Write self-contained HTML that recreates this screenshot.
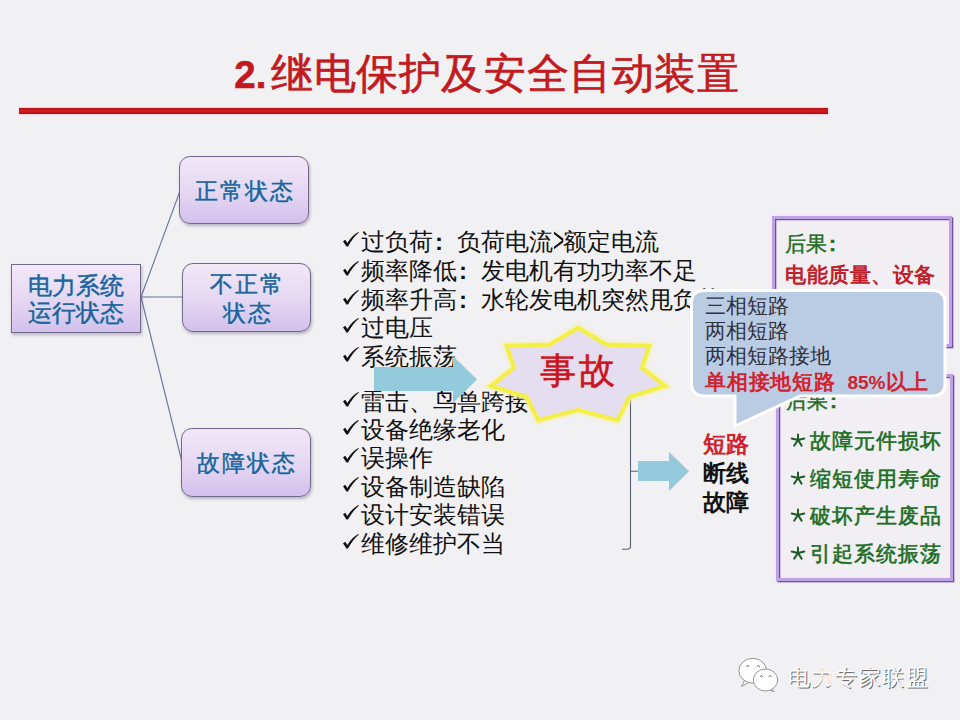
<!DOCTYPE html>
<html><head><meta charset="utf-8">
<style>
*{margin:0;padding:0;box-sizing:border-box}
html,body{width:960px;height:720px;overflow:hidden}
body{background:#F1F0F2;font-family:"Liberation Sans",sans-serif;position:relative}
.abs{position:absolute}
.title{left:7px;width:960px;top:46px;letter-spacing:0.6px;-webkit-text-stroke:0.6px #C21A20;text-align:center;font-size:42px;line-height:56px;color:#C21A20;white-space:nowrap}
.title b{font-weight:bold;font-size:38.5px;letter-spacing:0;margin-right:4.6px}
.redline{left:19px;top:108px;width:809px;height:6px;background:linear-gradient(#A81216,#D4181C 35%,#D2171B 65%,#A01014);box-shadow:0 -1px 1px #F8D0D0,0 1px 1px #F8D8E0}
.node{position:absolute;border:1px solid #6E6A8C;background:linear-gradient(#F2E8F8,#E4D6F2 55%,#D2C0EC);box-shadow:1px 2px 3px rgba(80,70,110,.35);color:#22629A;font-size:24px;line-height:27px;-webkit-text-stroke:0.45px #22629A;text-align:center;display:flex;align-items:center;justify-content:center;text-shadow:0 0 2px #D2E8FA,0 0 1px #D2E8FA}
.rn{font-size:22.5px;letter-spacing:2px;padding-left:2px;padding-top:2px;line-height:29px}
.list{left:343px;font-size:24px;line-height:28.8px;color:#111;white-space:nowrap}
.list div{position:relative;padding-left:18px}
.chk{position:absolute;left:0;top:4px;width:17px;height:15px;overflow:visible}
.callout-t{font-size:21px;line-height:25px;color:#2E3040;white-space:nowrap}
.ast{position:absolute;left:-20px;top:10px}
.rl{position:relative}
.cl{display:inline-block;width:1em;padding-left:2px;font-weight:bold;font-family:"Liberation Sans",sans-serif}
.cl2{font-family:"Liberation Sans",sans-serif;font-weight:bold;padding-left:2px}
.rbox{position:absolute;border:3.6px solid #BCA4E4;background:#F1EFF3;box-shadow:inset 1.3px 1.3px 0 #6E509C,inset 0 0 0 2.6px #F7E9F8,1.3px 1.3px 0 #6E509C,0 0 0 2.8px #F6E9FA}
</style></head><body>

<div class="abs title"><b>2.</b>继电保护及安全自动装置</div>
<div class="abs redline"></div>

<!-- tree lines -->
<svg class="abs" style="left:0;top:0" width="960" height="720">
<g stroke="#66759A" stroke-width="1.1" fill="none">
<line x1="141" y1="297" x2="180" y2="191"/>
<line x1="141" y1="297" x2="182" y2="297"/>
<line x1="141" y1="297" x2="182" y2="462"/>
</g>
</svg>

<div class="node" style="left:11px;top:264px;width:130px;height:69px;">电力系统<br>运行状态</div>
<div class="node rn" style="left:179px;top:156px;width:130px;height:68px;border-radius:11px">正常状态</div>
<div class="node rn" style="left:182px;top:263px;width:129px;height:69px;border-radius:11px">不正常<br>状态</div>
<div class="node rn" style="left:181px;top:428px;width:130px;height:69px;border-radius:11px">故障状态</div>

<!-- list group 1 -->
<div class="abs list" style="top:228px">
<div><svg class="chk" viewBox="0 0 17 15"><path d="M0 9.2 L2.3 7.8 L4.3 11 C7.5 6 11 2.5 15.3 0.1 L15.8 0.7 C11.8 3.8 8.3 8.5 5 14.6 L3.4 14.6 Z" fill="#111"/></svg>过负荷<span class="cl">:</span>负荷电流<span style="display:inline-block;width:10px;transform:scale(0.8,1.45);transform-origin:0 58%;font-family:'Liberation Sans',sans-serif">&gt;</span>额定电流</div>
<div><svg class="chk" viewBox="0 0 17 15"><path d="M0 9.2 L2.3 7.8 L4.3 11 C7.5 6 11 2.5 15.3 0.1 L15.8 0.7 C11.8 3.8 8.3 8.5 5 14.6 L3.4 14.6 Z" fill="#111"/></svg>频率降低<span class="cl">:</span>发电机有功功率不足</div>
<div><svg class="chk" viewBox="0 0 17 15"><path d="M0 9.2 L2.3 7.8 L4.3 11 C7.5 6 11 2.5 15.3 0.1 L15.8 0.7 C11.8 3.8 8.3 8.5 5 14.6 L3.4 14.6 Z" fill="#111"/></svg>频率升高<span class="cl">:</span>水轮发电机突然甩负荷</div>
<div><svg class="chk" viewBox="0 0 17 15"><path d="M0 9.2 L2.3 7.8 L4.3 11 C7.5 6 11 2.5 15.3 0.1 L15.8 0.7 C11.8 3.8 8.3 8.5 5 14.6 L3.4 14.6 Z" fill="#111"/></svg>过电压</div>
<div><svg class="chk" viewBox="0 0 17 15"><path d="M0 9.2 L2.3 7.8 L4.3 11 C7.5 6 11 2.5 15.3 0.1 L15.8 0.7 C11.8 3.8 8.3 8.5 5 14.6 L3.4 14.6 Z" fill="#111"/></svg>系统振荡</div>
</div>
<!-- list group 2 -->
<div class="abs list" style="top:387.5px;line-height:28.4px">
<div><svg class="chk" viewBox="0 0 17 15"><path d="M0 9.2 L2.3 7.8 L4.3 11 C7.5 6 11 2.5 15.3 0.1 L15.8 0.7 C11.8 3.8 8.3 8.5 5 14.6 L3.4 14.6 Z" fill="#111"/></svg>雷击、鸟兽跨接</div>
<div><svg class="chk" viewBox="0 0 17 15"><path d="M0 9.2 L2.3 7.8 L4.3 11 C7.5 6 11 2.5 15.3 0.1 L15.8 0.7 C11.8 3.8 8.3 8.5 5 14.6 L3.4 14.6 Z" fill="#111"/></svg>设备绝缘老化</div>
<div><svg class="chk" viewBox="0 0 17 15"><path d="M0 9.2 L2.3 7.8 L4.3 11 C7.5 6 11 2.5 15.3 0.1 L15.8 0.7 C11.8 3.8 8.3 8.5 5 14.6 L3.4 14.6 Z" fill="#111"/></svg>误操作</div>
<div><svg class="chk" viewBox="0 0 17 15"><path d="M0 9.2 L2.3 7.8 L4.3 11 C7.5 6 11 2.5 15.3 0.1 L15.8 0.7 C11.8 3.8 8.3 8.5 5 14.6 L3.4 14.6 Z" fill="#111"/></svg>设备制造缺陷</div>
<div><svg class="chk" viewBox="0 0 17 15"><path d="M0 9.2 L2.3 7.8 L4.3 11 C7.5 6 11 2.5 15.3 0.1 L15.8 0.7 C11.8 3.8 8.3 8.5 5 14.6 L3.4 14.6 Z" fill="#111"/></svg>设计安装错误</div>
<div><svg class="chk" viewBox="0 0 17 15"><path d="M0 9.2 L2.3 7.8 L4.3 11 C7.5 6 11 2.5 15.3 0.1 L15.8 0.7 C11.8 3.8 8.3 8.5 5 14.6 L3.4 14.6 Z" fill="#111"/></svg>维修维护不当</div>
</div>

<!-- shapes: arrows, star, brace -->
<svg class="abs" style="left:0;top:0" width="960" height="720">
<path d="M374 367 H453 V356 L477 379.5 L453 403 V391 H374 Z" fill="#93CBDC"/>
<path d="M630.5 398 V546 Q630.5 549.3 627 549.3 H622 M630.5 471.3 H638" stroke="#5A6272" stroke-width="1.1" fill="none"/>
<path d="M638 461 H669 V452 L689 471.3 L669 491 V481 H638 Z" fill="#92CADC"/>
<g transform="translate(578 375.5)">
<filter id="bl" x="-10%" y="-10%" width="120%" height="120%"><feGaussianBlur stdDeviation="0.8"/></filter>
<polygon fill="none" filter="url(#bl)" stroke="#F5F3A0" stroke-width="7" stroke-linejoin="miter" points="0.0,-47.5 28.4,-30.8 71.1,-29.6 63.9,-7.6 86.8,10.4 51.2,21.3 39.5,44.6 0.0,34.2 -39.5,44.6 -51.2,21.3 -86.8,10.4 -63.9,-7.6 -71.1,-29.6 -28.4,-30.8"/>
<polygon fill="#E5DEF0" stroke="#F3EF48" stroke-width="4" stroke-linejoin="miter" points="0.0,-47.5 28.4,-30.8 71.1,-29.6 63.9,-7.6 86.8,10.4 51.2,21.3 39.5,44.6 0.0,34.2 -39.5,44.6 -51.2,21.3 -86.8,10.4 -63.9,-7.6 -71.1,-29.6 -28.4,-30.8"/>
</g>
</svg>
<div class="abs" style="left:540px;top:351px;font-size:36px;line-height:40px;color:#C8141E;letter-spacing:2.5px;-webkit-text-stroke:0.5px #C8141E;white-space:nowrap;text-shadow:0 0 3px #F6C8D0">事故</div>

<!-- result boxes -->
<div class="rbox" style="left:772.3px;top:215.5px;width:179.5px;height:131px"></div>
<div class="abs" style="left:785px;top:231px;font-size:21px;line-height:25px;color:#1E6B1E;-webkit-text-stroke:0.4px #1E6B1E;white-space:nowrap">后果<b class="cl2">:</b></div>
<div class="abs" style="left:785px;top:262px;font-size:21px;line-height:25px;letter-spacing:0.5px;color:#C0202A;font-weight:bold;white-space:nowrap">电能质量、设备</div>

<div class="rbox" style="left:775.5px;top:374px;width:177.5px;height:206.8px"></div>
<div class="abs" style="left:786px;top:388px;font-size:21px;line-height:25px;color:#1E6B1E;-webkit-text-stroke:0.4px #1E6B1E;white-space:nowrap">后果<b class="cl2">:</b></div>
<div class="abs" style="left:809.5px;top:422px;font-size:20.5px;letter-spacing:1px;line-height:37.6px;color:#236A28;-webkit-text-stroke:0.55px #236A28;text-shadow:0 0 2px #D0F2D0;white-space:nowrap">
<div class="rl"><svg class="ast" width="16" height="16" viewBox="-8 -8 16 16"><path d="M0 0V-5.6M0 0L-6.3 -1.5M0 0L6.3 -1.5M0 0L-3.8 5.6M0 0L3.6 5.6" stroke="#1E5A28" stroke-width="2" stroke-linecap="round"/></svg>故障元件损坏</div><div class="rl"><svg class="ast" width="16" height="16" viewBox="-8 -8 16 16"><path d="M0 0V-5.6M0 0L-6.3 -1.5M0 0L6.3 -1.5M0 0L-3.8 5.6M0 0L3.6 5.6" stroke="#1E5A28" stroke-width="2" stroke-linecap="round"/></svg>缩短使用寿命</div><div class="rl"><svg class="ast" width="16" height="16" viewBox="-8 -8 16 16"><path d="M0 0V-5.6M0 0L-6.3 -1.5M0 0L6.3 -1.5M0 0L-3.8 5.6M0 0L3.6 5.6" stroke="#1E5A28" stroke-width="2" stroke-linecap="round"/></svg>破坏产生废品</div><div class="rl"><svg class="ast" width="16" height="16" viewBox="-8 -8 16 16"><path d="M0 0V-5.6M0 0L-6.3 -1.5M0 0L6.3 -1.5M0 0L-3.8 5.6M0 0L3.6 5.6" stroke="#1E5A28" stroke-width="2" stroke-linecap="round"/></svg>引起系统振荡</div></div>

<!-- callout -->
<svg class="abs" style="left:0;top:0" width="960" height="720">
<path d="M704.5 290.5 H932 Q945 290.5 945 303.5 V383 Q945 396 932 396 H800 L735 426 V396 H704.5 Q691.5 396 691.5 383 V303.5 Q691.5 290.5 704.5 290.5 Z" fill="#B9CCE3" stroke="#fff" stroke-width="3"/>
</svg>
<div class="abs callout-t" style="left:705px;top:293px">三相短路<br>两相短路<br>两相短路接地<br><span style="color:#D3222F;font-weight:bold;font-size:21px;position:relative;top:1px"><span style="letter-spacing:0.8px">单相接地短路</span>&nbsp;&nbsp;<span style="font-size:19px">85%</span>以上</span></div>

<!-- fault text -->
<div class="abs" style="left:703px;top:430px;font-size:23px;line-height:29px;font-weight:bold;color:#111;white-space:nowrap"><span style="color:#D0202E">短路</span><br>断线<br>故障</div>

<!-- watermark -->
<div class="abs" style="left:788px;top:662.5px;font-size:22px;letter-spacing:1.6px;line-height:30px;color:#fff;text-shadow:0.8px 0.8px 0 #6a6a6a;white-space:nowrap">电力专家联盟</div>
<svg class="abs" style="left:732px;top:652px" width="60" height="48" viewBox="0 0 60 48">
<g fill="#fff" stroke="#8a8a8a" stroke-width="0.9">
<path d="M12.5 28.5 L9.5 34.5 L16.5 30.5 Z" stroke-linejoin="round"/>
<ellipse cx="20.7" cy="18.7" rx="13.8" ry="12.4"/>
<path d="M39 36 L42 39.6 L36.5 38 Z" stroke-linejoin="round"/>
<ellipse cx="33.5" cy="28" rx="12.2" ry="11"/>
</g>
<g fill="none" stroke="#777" stroke-width="1">
<path d="M14.3 15 L15.8 13.2 L17.3 15"/>
<path d="M25 15 L26.5 13.2 L28 15"/>
<path d="M28 25 L29.5 23.3 L31 25"/>
<path d="M36.6 25 L38.1 23.3 L39.6 25"/>
</g>
</svg>
</body></html>
